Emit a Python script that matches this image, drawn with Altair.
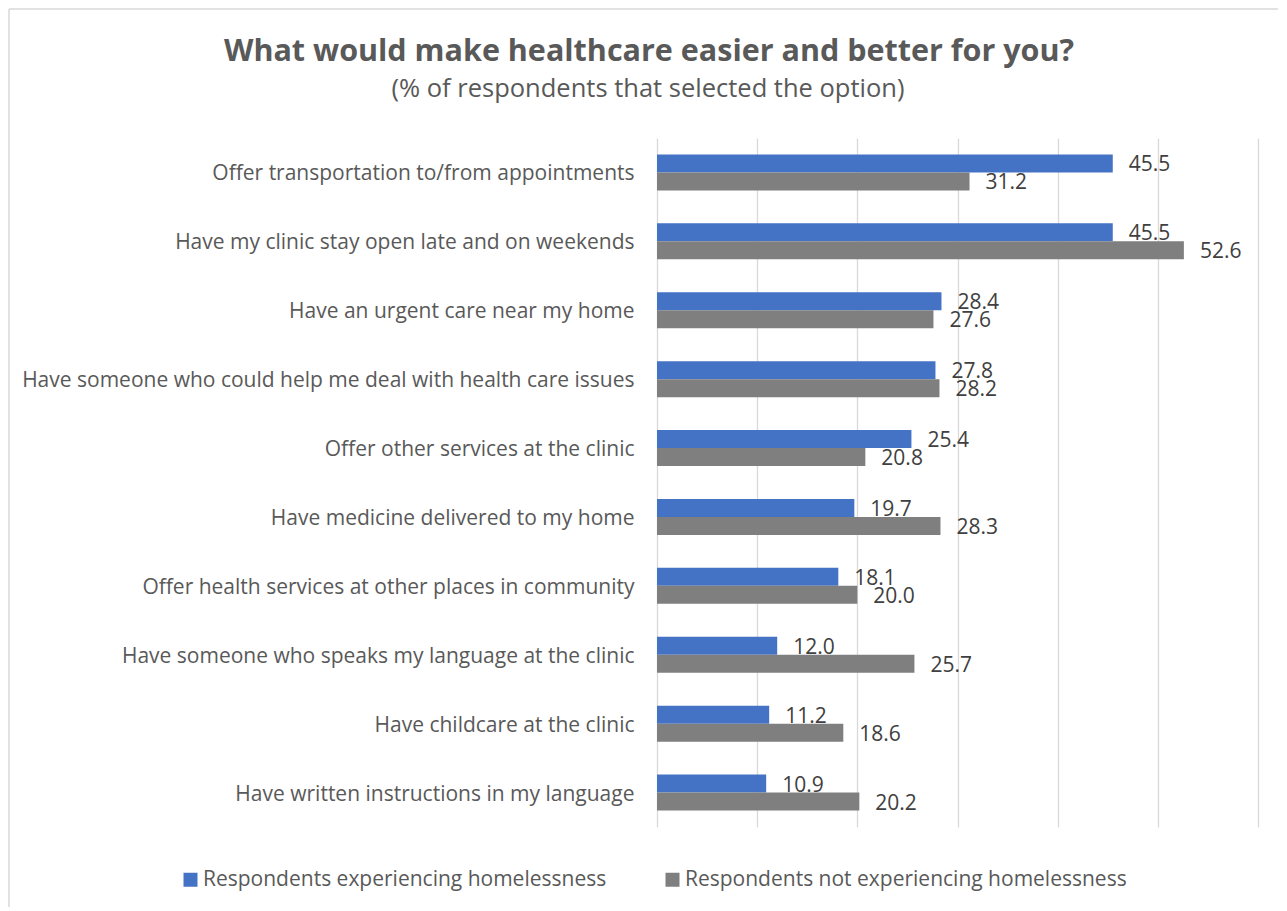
import altair as alt
import pandas as pd

categories = [
    "Offer transportation to/from appointments",
    "Have my clinic stay open late and on weekends",
    "Have an urgent care near my home",
    "Have someone who could help me deal with health care issues",
    "Offer other services at the clinic",
    "Have medicine delivered to my home",
    "Offer health services at other places in community",
    "Have someone who speaks my language at the clinic",
    "Have childcare at the clinic",
    "Have written instructions in my language",
]
homeless = [45.5, 45.5, 28.4, 27.8, 25.4, 19.7, 18.1, 12.0, 11.2, 10.9]
not_homeless = [31.2, 52.6, 27.6, 28.2, 20.8, 28.3, 20.0, 25.7, 18.6, 20.2]
series = ["Respondents experiencing homelessness", "Respondents not experiencing homelessness"]
colors = ["#4472C4", "#7F7F7F"]
title_text = "What would make healthcare easier and better for you?"
subtitle_text = "(% of respondents that selected the option)"

rows = []
for c, a, b in zip(categories, homeless, not_homeless):
    rows.append({"category": c, "series": series[0], "value": a})
    rows.append({"category": c, "series": series[1], "value": b})
df = pd.DataFrame(rows)

FONT = "Open Sans"
TXT = "#595959"

y_enc = alt.Y("category:N", sort=categories, title=None,
              scale=alt.Scale(paddingInner=0.478, paddingOuter=0.239),
              axis=alt.Axis(labelFontSize=21, labelColor=TXT, labelFont=FONT, labelOffset=2,
                            ticks=False, domain=False, labelPadding=23, labelLimit=800))
x_enc = alt.X("value:Q", title=None, scale=alt.Scale(domain=[0, 60], nice=False),
              axis=alt.Axis(values=[0, 10, 20, 30, 40, 50, 60], labels=False, ticks=False,
                            domain=False, grid=True, gridColor="#D9D9D9", gridWidth=1.3))
yoff = alt.YOffset("series:N", sort=series, scale=alt.Scale(paddingInner=0, paddingOuter=0))

base = alt.Chart(df)

bars = base.mark_bar().encode(
    y=y_enc,
    x=x_enc,
    yOffset=yoff,
    color=alt.Color("series:N", sort=series,
                    scale=alt.Scale(domain=series, range=colors),
                    legend=alt.Legend(title=None, orient="none", legendX=-477, legendY=731,
                                      direction="horizontal", symbolType="square",
                                      symbolSize=196, symbolStrokeWidth=0,
                                      labelFontSize=21, labelColor=TXT, labelFont=FONT,
                                      labelOffset=2, columnPadding=55, labelLimit=800)),
)

labels = base.mark_text(align="left", baseline="middle", dx=16, dy=2, fontSize=21,
                        font=FONT, color="#404040").encode(
    y=alt.Y("category:N", sort=categories),
    x=alt.X("value:Q"),
    yOffset=yoff,
    text=alt.Text("value:Q", format=".1f"),
)

one = alt.Data(values=[{"k": 1}])
frame_top = alt.Chart(one).mark_rule(color="#D9D9D9", strokeWidth=1.5).encode(
    x=alt.value(-648), x2=alt.value(640), y=alt.value(-129))
frame_left = alt.Chart(one).mark_rule(color="#D9D9D9", strokeWidth=1.5).encode(
    x=alt.value(-648), y=alt.value(-129), y2=alt.value(775))

title = alt.Chart(one).mark_text(align="center", baseline="alphabetic", font=FONT,
                                 fontSize=30.5, fontWeight="bold", color=TXT).encode(
    x=alt.value(-8), y=alt.value(-77), text=alt.value(title_text))
subtitle = alt.Chart(one).mark_text(align="center", baseline="alphabetic", font=FONT,
                                    fontSize=25.5, color=TXT).encode(
    x=alt.value(-9), y=alt.value(-41), text=alt.value(subtitle_text))

chart = alt.layer(frame_top, frame_left, title, subtitle, bars, labels).properties(
    width=601,
    height=689,
    background="white",
    autosize=alt.AutoSizeParams(type="none"),
    padding={"left": 649, "top": 130, "right": 20, "bottom": 80},
).configure_view(strokeWidth=0, stroke=None)

chart.save("out.html", embed_options={"renderer": "svg", "actions": False})
